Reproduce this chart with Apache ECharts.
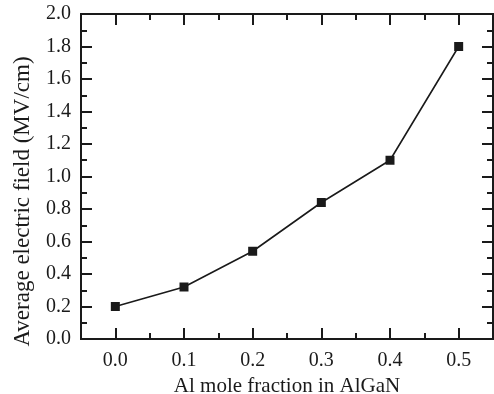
<!DOCTYPE html>
<html>
<head>
<meta charset="utf-8">
<script src="https://cdn.jsdelivr.net/npm/echarts@6/dist/echarts.min.js"></script>
<style>
  html, body { margin: 0; padding: 0; background: #fff; }
  #chart { width: 494px; height: 394px; }
</style>
</head>
<body>
<div id="chart"></div>
<script>
// data
const alFraction = [0.0, 0.1, 0.2, 0.3, 0.4, 0.5];
const avgField = [0.20, 0.32, 0.54, 0.84, 1.10, 1.80];
const xMajorTicks = [0.0, 0.1, 0.2, 0.3, 0.4, 0.5];
const xMinorTicks = [0.05, 0.15, 0.25, 0.35, 0.45];

const ink = "#1a1a1a";
const font = "'Liberation Serif', 'DejaVu Serif', serif";

const chart = echarts.init(document.getElementById("chart"));

const xBase = (pos, ticks, len, showLabel) => ({
  type: "value",
  position: pos,
  min: -0.05,
  max: 0.55,
  splitLine: { show: false },
  axisLine: { show: true, onZero: false, lineStyle: { color: ink, width: 2 } },
  axisTick: { show: true, inside: true, length: len, customValues: ticks, lineStyle: { color: ink, width: 2 } },
  axisLabel: {
    show: showLabel,
    customValues: ticks,
    margin: 12,
    color: ink,
    fontFamily: font,
    fontSize: 20,
    formatter: v => v.toFixed(1)
  }
});

const yBase = (pos, showLabel) => ({
  type: "value",
  position: pos,
  min: 0,
  max: 2.0,
  interval: 0.2,
  splitLine: { show: false },
  axisLine: { show: true, onZero: false, lineStyle: { color: ink, width: 2 } },
  axisTick: { show: true, inside: true, length: 11, lineStyle: { color: ink, width: 2 } },
  minorTick: { show: true, splitNumber: 2, length: 6, lineStyle: { color: ink, width: 2 } },
  axisLabel: {
    show: showLabel,
    margin: 10,
    color: ink,
    fontFamily: font,
    fontSize: 20,
    formatter: v => v.toFixed(1)
  }
});

const xBottom = xBase("bottom", xMajorTicks, 11, true);
xBottom.name = "Al mole fraction in AlGaN";
xBottom.nameLocation = "middle";
xBottom.nameGap = 33;
xBottom.nameTextStyle = { color: ink, fontFamily: font, fontSize: 21 };

const yLeft = yBase("left", true);
yLeft.name = "Average electric field (MV/cm)";
yLeft.nameLocation = "middle";
yLeft.nameGap = 47;
yLeft.nameTextStyle = { color: ink, fontFamily: font, fontSize: 23, padding: [0, 50, 0, 0] };

const option = {
  animation: false,
  backgroundColor: "#fff",
  grid: { left: 81, right: 1, top: 14, bottom: 55, outerBoundsMode: "none", containLabel: false },
  xAxis: [
    xBottom,
    xBase("bottom", xMinorTicks, 6, false),
    xBase("top", xMajorTicks, 11, false),
    xBase("top", xMinorTicks, 6, false)
  ],
  yAxis: [
    yLeft,
    yBase("right", false)
  ],
  series: [
    {
      type: "line",
      xAxisIndex: 0,
      yAxisIndex: 0,
      data: alFraction.map((x, i) => [x, avgField[i]]),
      symbol: "rect",
      symbolSize: 9,
      itemStyle: { color: ink },
      lineStyle: { color: ink, width: 1.6 }
    }
  ]
};

chart.setOption(option);
</script>
</body>
</html>
